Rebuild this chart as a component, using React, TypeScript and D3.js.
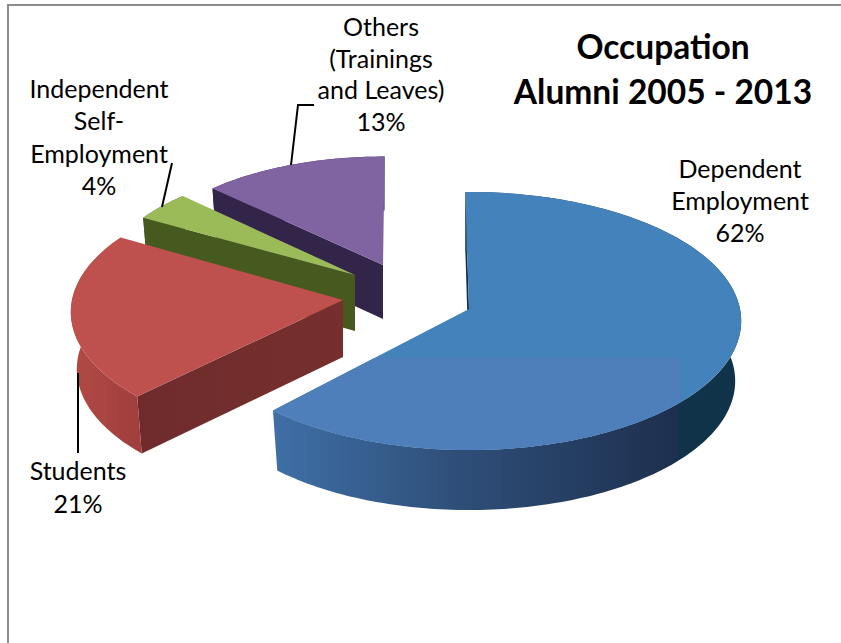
import React from "react";
import * as d3 from "d3";

const categories = ["Dependent Employment", "Students", "Independent Self-Employment", "Others (Trainings and Leaves)"];
const shares = [62, 21, 4, 13];

// layout of each exploded wedge: apex, radius factor, small rotation
const apexX = [469, 343, 355, 383];
const apexY = [309, 300, 275, 265];
const radiusFactor = [1, 1, 0.94, 0.92];
const rotationDeg = [-0.85, 2, 1, 0.4];
const topColors = ["#4382ba", "#be504e", "#9bbb59", "#8064a2"];
const edgeColors = ["#0f2f4c", "#702e2e", "#46591f", "#33254a"];
const rimFills = ["url(#blueRim)", "url(#redRim)", "#46591f", "#33254a"];
const depths = [60, 57, 56, 54];
const drawOrder = [3, 2, 1, 0];

const titleLines = ["Occupation", "Alumni 2005 - 2013"];
const titleY = [59, 104];
const labelText = [
  ["Dependent", "Employment", "62%"],
  ["Students", "21%"],
  ["Independent", "Self-", "Employment", "4%"],
  ["Others", "(Trainings", "and Leaves)", "13%"],
];
const labelCx = [740, 78, 99, 381];
const labelBaseline = [
  [178, 210, 242],
  [480, 513],
  [98, 130, 163, 195],
  [36, 68, 99, 131],
];
const leaders: [number, number][][] = [
  [[291, 165], [298, 105], [314, 105]],
  [[162, 207], [172, 163]],
  [[78, 373], [78, 453]],
];

const RX = 271;
const RY = 127.9;
const PERSPECTIVE = 0.093;
const BOTTOM_SHRINK = 0.978;

type P = [number, number];

function project(i: number, theta: number, r = 1): P {
  const t = theta + (rotationDeg[i] * Math.PI) / 180;
  const u = Math.sin(t) * r * radiusFactor[i];
  const v = Math.cos(t) * r * radiusFactor[i];
  const w = 1 / (1 + PERSPECTIVE * v);
  return [apexX[i] + RX * u * w, apexY[i] - RY * v * w];
}

const linePath = d3.line<P>();

export default function App() {
  const arcs = d3.pie<number>().sort(null).startAngle(0).endAngle(2 * Math.PI)(shares);

  const wedges = arcs.map((a, i) => {
    const n = Math.max(8, Math.ceil((a.endAngle - a.startAngle) * 50));
    const thetas = d3.range(n + 1).map((k) => a.startAngle + ((a.endAngle - a.startAngle) * k) / n);
    const rim = thetas.map((t) => project(i, t));
    const d = depths[i];
    const down = (p: P): P => [apexX[i] + (p[0] - apexX[i]) * BOTTOM_SHRINK, p[1] + d];
    const apex: P = [apexX[i], apexY[i]];
    const top = (linePath([apex, ...rim]) as string) + "Z";
    const band = (linePath([...rim, ...rim.map(down).reverse()]) as string) + "Z";
    const edge = (linePath([apex, rim[0], down(rim[0]), down(apex)]) as string) + "Z";
    return { i, top, band, edge };
  });

  return (
    <svg
      width={841}
      height={643}
      style={{ position: "fixed", left: 0, top: 0, background: "#fff" }}
      fontFamily="Lato, 'Open Sans', sans-serif"
    >
      <defs>
        <linearGradient id="blueRim" gradientUnits="userSpaceOnUse" x1={273} x2={741} y1={0} y2={0}>
          <stop offset="0" stopColor="#3f6fa6" />
          <stop offset="0.4" stopColor="#2e4e78" />
          <stop offset="0.866" stopColor="#1d2f4e" />
          <stop offset="0.867" stopColor="#10334a" />
          <stop offset="1" stopColor="#10334a" />
        </linearGradient>
        <linearGradient id="redRim" gradientUnits="userSpaceOnUse" x1={73} x2={137} y1={0} y2={0}>
          <stop offset="0" stopColor="#b14a46" />
          <stop offset="1" stopColor="#a03f3d" />
        </linearGradient>
        <linearGradient id="redEdge" gradientUnits="userSpaceOnUse" x1={137} x2={343} y1={0} y2={0}>
          <stop offset="0" stopColor="#6f2b2c" />
          <stop offset="1" stopColor="#762f2e" />
        </linearGradient>
        <clipPath id="patch">
          <rect x={200} y={358} width={480} height={120} />
        </clipPath>
      </defs>

      <path d="M8,643V5H841" fill="none" stroke="#8c8c8c" strokeWidth={2} />

      {drawOrder.map((i) => {
        const w = wedges[i];
        return (
          <g key={categories[i]}>
            <path d={w.edge} fill={i === 1 ? "url(#redEdge)" : edgeColors[i]} />
            <path d={w.band} fill={rimFills[i]} />
            <path d={w.top} fill={topColors[i]} />
            {i === 0 && <path d={w.top} fill="#4f7fbb" clipPath="url(#patch)" />}
          </g>
        );
      })}

      {leaders.map((pts, k) => (
        <path key={k} d={linePath(pts as P[]) as string} fill="none" stroke="#000" strokeWidth={2} />
      ))}

      {labelText.map((lines, i) =>
        lines.map((t, j) => (
          <text key={t + i} x={labelCx[i]} y={labelBaseline[i][j]} textAnchor="middle" fontSize={25} fill="#000">
            {t}
          </text>
        ))
      )}

      {titleLines.map((t, j) => (
        <text key={t} x={663} y={titleY[j]} textAnchor="middle" fontSize={33.5} fontWeight={700} fill="#000">
          {t}
        </text>
      ))}
    </svg>
  );
}
